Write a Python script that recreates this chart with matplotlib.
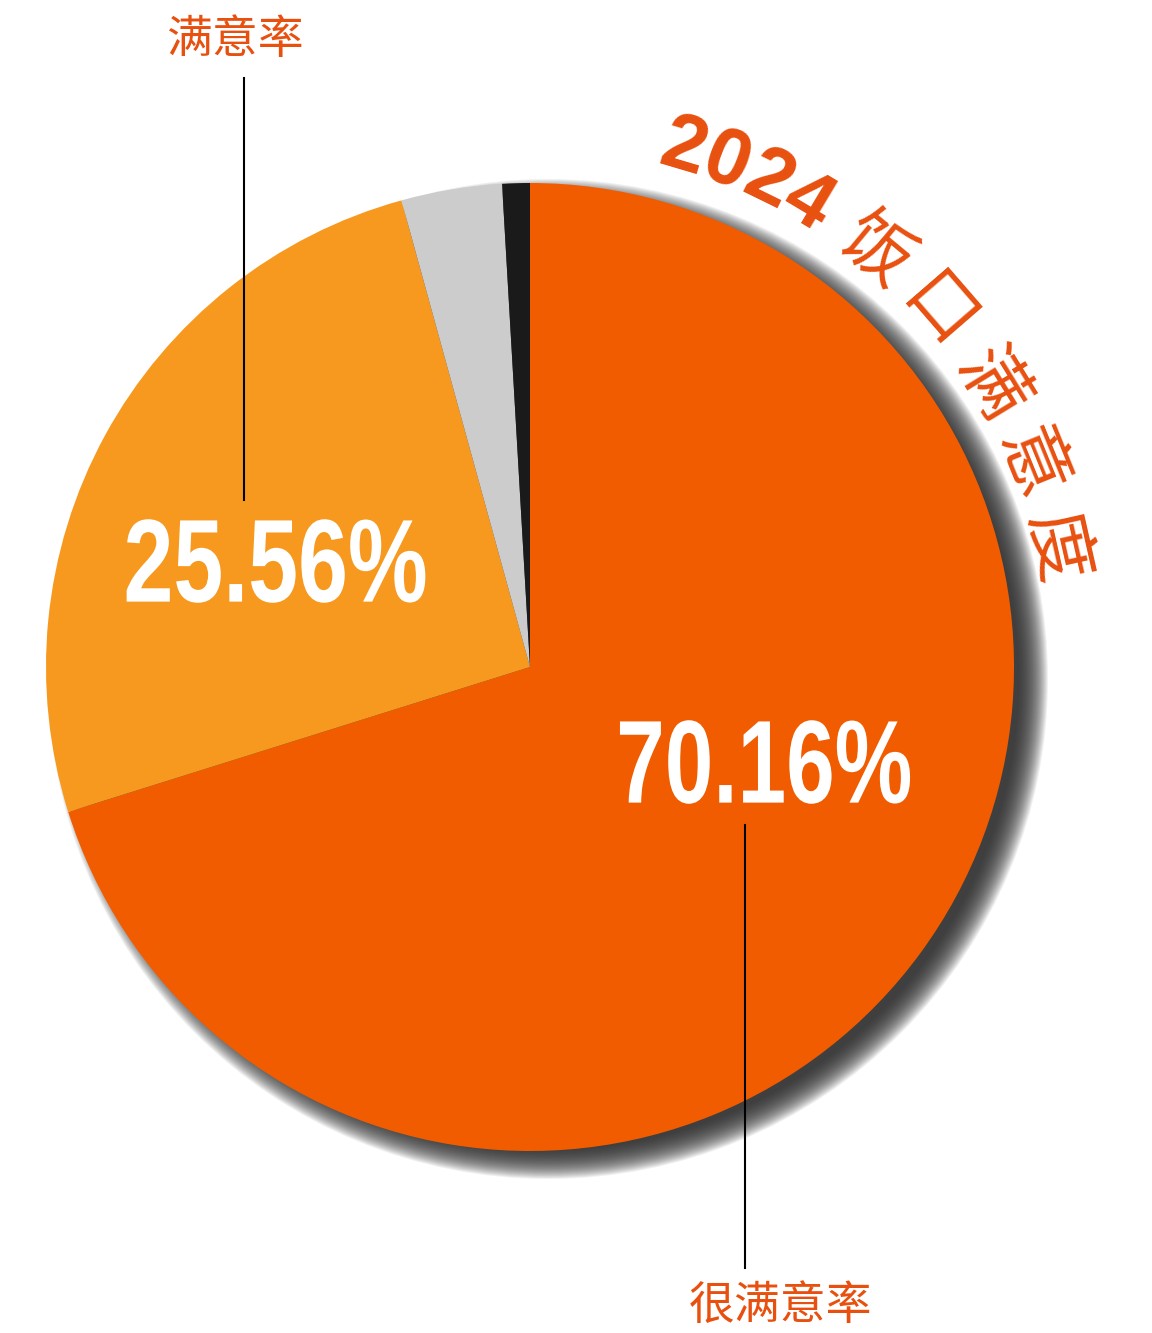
import numpy as np
import matplotlib.pyplot as plt
from matplotlib.patches import Circle, PathPatch
from matplotlib.textpath import TextPath
from matplotlib.font_manager import FontProperties
from matplotlib.transforms import Affine2D

plt.rcParams['font.family'] = ['Noto Sans CJK SC', 'DejaVu Sans']

# data
categories = ['很满意率', '满意率', '一般', '不满意']
values = [70.16, 25.56, 3.36, 0.92]
colors = ['#F25C00', '#F7991F', '#CCCCCC', '#1A1A1A']
title_chars = ['2', '0', '2', '4', '饭', '口', '满', '意', '度']

W, H = 1152, 1333
fig = plt.figure(figsize=(W / 100, H / 100), dpi=100)
ax = fig.add_axes([0, 0, 1, 1])

cx, cy, r = 530, H - 667, 484

# soft shadow, layered circles
for k in range(30):
    ax.add_patch(Circle((cx + 18, cy - 12), r + 16 - k * 1.0, color='#2e2e2e',
                        alpha=0.07, lw=0, zorder=1))

ax.pie(values, colors=colors, startangle=90, counterclock=False,
       center=(cx, cy), radius=r, frame=True,
       wedgeprops=dict(linewidth=0, zorder=2))
ax.set_xlim(0, W)
ax.set_ylim(0, H)
ax.set_aspect('equal')
ax.axis('off')


def condensed_text(s, x, y, size, sx):
    # narrow bold white label, squeezed horizontally
    tp = TextPath((0, 0), s, size=size,
                  prop=FontProperties(family='Liberation Sans', weight='bold'))
    ext = tp.get_extents()
    tr = (Affine2D().translate(-(ext.x0 + ext.x1) / 2, -(ext.y0 + ext.y1) / 2)
          .scale(sx, 1).translate(x, y))
    ax.add_patch(PathPatch(tr.transform_path(tp), color='white', lw=0, zorder=5))


condensed_text(f'{values[1]:.2f}%', 276, H - 561, 118, 0.76)
condensed_text(f'{values[0]:.2f}%', 765, H - 762, 118, 0.74)

# leader lines
ax.plot([244, 244], [H - 78, H - 500], color='black', lw=1.5, zorder=4)
ax.plot([745, 745], [H - 825, H - 1268], color='black', lw=1.5, zorder=4)

lab_font = dict(color='#E8500F', fontsize=33, ha='center', va='center')
ax.text(235, H - 40, categories[1], **lab_font)
ax.text(781, H - 1306, categories[0], **lab_font)

# curved title along the circle
R = 540
ang = 16.5
for i, ch in enumerate(title_chars):
    a = np.radians(ang)
    x = cx + R * np.sin(a)
    y = cy + R * np.cos(a)
    if ch.isdigit():
        ax.text(x, y, ch, family=['Liberation Sans', 'DejaVu Sans'], weight='bold',
                fontsize=57, color='#E8500F', rotation=-ang,
                ha='center', va='center', rotation_mode='anchor')
        ang += 4.8 if i < 3 else 8.8
    else:
        ax.text(x, y, ch, fontsize=51, color='#E8500F', rotation=-ang,
                ha='center', va='center', rotation_mode='anchor')
        ang += 9.4

fig.savefig('out.png', dpi=100)
